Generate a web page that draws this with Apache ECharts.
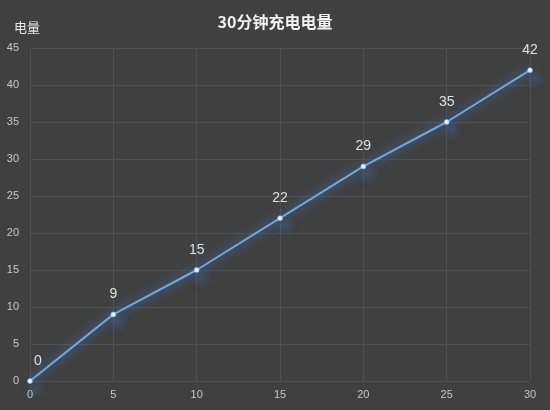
<!DOCTYPE html>
<html>
<head>
<meta charset="utf-8">
<script src="https://cdn.jsdelivr.net/npm/echarts@6/dist/echarts.min.js"></script>
<style>
  html, body { margin: 0; padding: 0; background: #404040; }
  #chart { width: 550px; height: 410px; }
</style>
</head>
<body>
<div id="chart"></div>
<script>
// 充电时间 (分钟) 和 电量
var minutes = [0, 5, 10, 15, 20, 25, 30];
var charge = [0, 9, 15, 22, 29, 35, 42];

var chart = echarts.init(document.getElementById('chart'));
chart.setOption({
    backgroundColor: '#404040',
    title: {
        text: '30分钟充电电量',
        left: 'center',
        top: 9,
        textStyle: { color: '#f2f2f2', fontSize: 16, fontWeight: 'bold', fontFamily: 'Noto Sans CJK SC' }
    },
    grid: { left: 30, right: 20, top: 48, bottom: 29 },
    xAxis: {
        type: 'value',
        min: 0, max: 30, interval: 5,
        axisLine: { show: false },
        axisTick: { show: false },
        axisLabel: { color: '#c8c8c8', fontSize: 11, margin: 8 },
        splitLine: { lineStyle: { color: '#505050' } }
    },
    yAxis: {
        type: 'value',
        name: '电量',
        nameLocation: 'end',
        nameGap: 14,
        nameTextStyle: { color: '#e8e8e8', fontSize: 13, align: 'left', padding: [0, 0, 0, -16], fontFamily: 'Noto Sans CJK SC' },
        min: 0, max: 45, interval: 5,
        axisLine: { show: false },
        axisTick: { show: false },
        axisLabel: { color: '#c8c8c8', fontSize: 11, margin: 11 },
        splitLine: { lineStyle: { color: '#505050' } }
    },
    series: [{
        type: 'line',
        data: minutes.map(function(m, i) {
            var item = { value: [m, charge[i]] };
            // 第一个标签往右挪一点
            if (i === 0) item.label = { offset: [8, 0] };
            return item;
        }),
        symbol: 'circle',
        symbolSize: 5,
        lineStyle: {
            color: '#72a8dd', width: 2,
            shadowColor: 'rgba(60,140,240,1)', shadowBlur: 12
        },
        itemStyle: {
            color: '#e8f2ff',
            borderColor: 'rgba(120,170,230,0.6)',
            borderWidth: 1,
            shadowColor: 'rgba(70,140,220,1)', shadowBlur: 10,
            shadowOffsetX: 5, shadowOffsetY: 8
        },
        label: {
            show: true,
            position: 'top',
            distance: 10,
            color: '#e0e0e0',
            fontSize: 14
        }
    }]
});
</script>
</body>
</html>
